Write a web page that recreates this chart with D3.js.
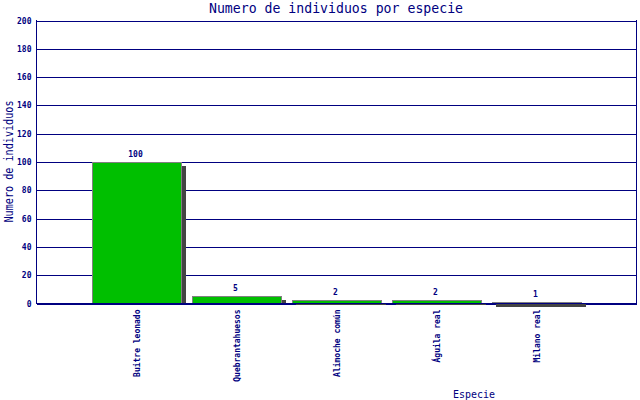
<!DOCTYPE html>
<html>
<head>
<meta charset="utf-8">
<script src="https://cdn.jsdelivr.net/npm/d3@7/dist/d3.min.js"></script>
<style>
  html, body { margin: 0; padding: 0; background: #fff; }
  svg { display: block; }
  text { font-family: "DejaVu Sans Mono", "Liberation Mono", monospace; fill: #000080; }
</style>
</head>
<body>
<svg id="chart" width="640" height="400"></svg>
<script>
const categories = ["Buitre leonado", "Quebrantahuesos", "Alimoche común", "Águila real", "Milano real"];
const values = [100, 5, 2, 2, 1];
const yTicks = [0, 20, 40, 60, 80, 100, 120, 140, 160, 180, 200];
const titleText = "Numero de individuos por especie";
const yTitle = "Numero de individuos";
const xTitle = "Especie";

const navy = "#000080";
const svg = d3.select("#chart");

const pLeft = 36, pRight = 636, pTop = 20, pBase = 303;

const y = d3.scaleLinear().domain([0, 200]).range([pBase, pTop]);
const x = d3.scaleBand().domain(categories).range([87, 587]).paddingInner(0.1).paddingOuter(0.05);

// gridlines + y tick labels
const yAxis = d3.axisLeft(y).tickValues(yTicks).tickSize(-(pRight - pLeft)).tickPadding(5).tickFormat(d3.format("d"));
const gy = svg.append("g").attr("transform", `translate(${pLeft + 0.5},0.5)`).call(yAxis);
gy.select(".domain").remove();
gy.selectAll(".tick line").attr("stroke", navy).attr("stroke-width", 1).attr("shape-rendering", "crispEdges");
gy.selectAll(".tick text")
  .attr("fill", navy).attr("font-size", "8px").attr("font-weight", "bold")
  .attr("font-family", "DejaVu Sans Mono, monospace")
  .attr("dy", "0.32em");

const data = categories.map((c, i) => ({ c, v: values[i] }));

// shadows
svg.append("g").selectAll("rect").data(data).join("rect")
  .attr("x", d => Math.round(x(d.c)) + 4)
  .attr("y", d => Math.min(Math.round(y(d.v)) + 4, pBase))
  .attr("width", d => Math.round(x.bandwidth()))
  .attr("height", d => Math.abs(pBase - (Math.round(y(d.v)) + 4)) + 1)
  .attr("fill", "#444444")
  .attr("shape-rendering", "crispEdges");

// bars
svg.append("g").selectAll("rect").data(data).join("rect")
  .attr("x", d => Math.round(x(d.c)) + 0.5)
  .attr("y", d => Math.round(y(d.v)) + 0.5)
  .attr("width", d => Math.round(x.bandwidth()) - 1)
  .attr("height", d => pBase - Math.round(y(d.v)))
  .attr("fill", "#00bf00")
  .attr("stroke", "#808080")
  .attr("stroke-width", 1)
  .attr("shape-rendering", "crispEdges");

// value labels
svg.append("g").selectAll("text").data(data).join("text")
  .attr("x", d => x(d.c) + x.bandwidth() / 2 - 1.5)
  .attr("y", d => Math.round(y(d.v)) - 5.5)
  .attr("text-anchor", "middle")
  .attr("font-size", "8px").attr("font-weight", "bold")
  .text(d => d.v);

// x axis
const xAxis = d3.axisBottom(x).tickSize(0).tickPadding(0);
const gx = svg.append("g").attr("transform", `translate(0,${pBase + 0.5})`).call(xAxis);
gx.select(".domain").remove();
gx.selectAll(".tick text")
  .attr("fill", navy).attr("font-size", "8px").attr("font-weight", "bold")
  .attr("font-family", "DejaVu Sans Mono, monospace")
  .attr("text-anchor", "end")
  .attr("dy", null)
  .attr("y", 0)
  .attr("transform", "translate(2.5,6) rotate(-90)");

// frame lines
const frame = svg.append("g").attr("stroke", navy).attr("stroke-width", 1).attr("shape-rendering", "crispEdges");
frame.append("line").attr("x1", pLeft).attr("x2", pRight + 1).attr("y1", pBase + 0.5).attr("y2", pBase + 0.5);
frame.append("line").attr("x1", pLeft + 0.5).attr("x2", pLeft + 0.5).attr("y1", pTop).attr("y2", pBase + 1);
frame.append("line").attr("x1", pRight + 0.5).attr("x2", pRight + 0.5).attr("y1", pTop).attr("y2", pBase + 1);

// titles
svg.append("text").attr("x", (pLeft + pRight) / 2).attr("y", 13)
  .attr("text-anchor", "middle").attr("font-size", "13.2px").text(titleText);

svg.append("text").attr("transform", `translate(12.5,161.5) rotate(-90)`)
  .attr("text-anchor", "middle").attr("font-size", "11.5px")
  .attr("textLength", 122).attr("lengthAdjust", "spacingAndGlyphs").text(yTitle);

svg.append("text").attr("x", 474).attr("y", 398)
  .attr("text-anchor", "middle").attr("font-size", "11px")
  .attr("textLength", 42).attr("lengthAdjust", "spacingAndGlyphs").text(xTitle);
</script>
</body>
</html>
